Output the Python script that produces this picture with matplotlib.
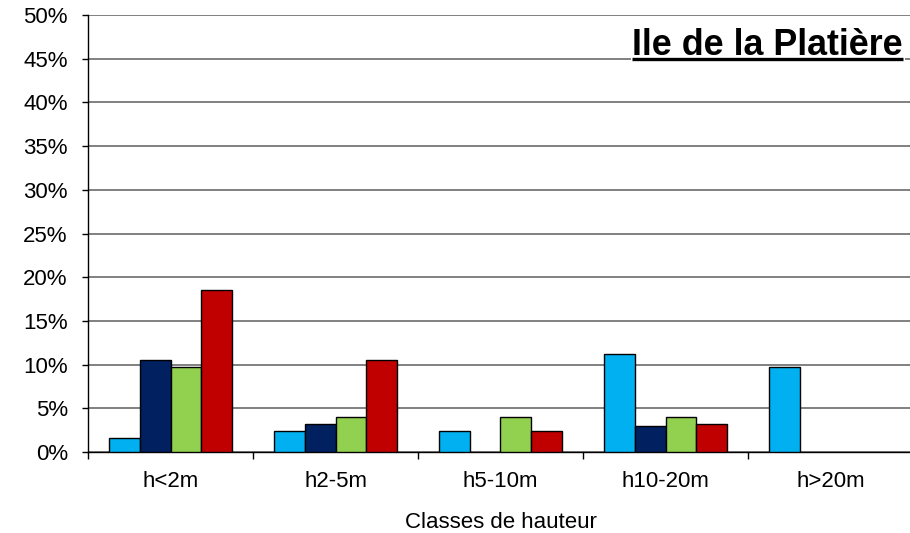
import numpy as np
import matplotlib
matplotlib.use("Agg")
import matplotlib.pyplot as plt

plt.rcParams['font.family'] = ['Liberation Sans', 'DejaVu Sans']

# Part de chaque classe de hauteur (en %)
categories = ["h<2m", "h2-5m", "h5-10m", "h10-20m", "h>20m"]
serie_1 = [1.6, 2.4, 2.4, 11.2, 9.7]
serie_2 = [10.5, 3.2, 0.0, 3.0, 0.0]
serie_3 = [9.7, 4.0, 4.0, 4.0, 0.0]
serie_4 = [18.5, 10.5, 2.4, 3.2, 0.0]
colors = ["#00B0F0", "#002060", "#92D050", "#C00000"]
title = "Ile de la Platière"

fig = plt.figure(figsize=(9.1, 5.33), dpi=100)
ax = fig.add_axes([88 / 910, 81 / 533, 825 / 910, 437 / 533])

x = np.arange(len(categories))
width = 0.185
for i, (vals, col) in enumerate(zip([serie_1, serie_2, serie_3, serie_4], colors)):
    h = np.array(vals)
    mask = h > 0
    ax.bar(x[mask] + (i - 1.5) * width, h[mask], width, color=col,
           edgecolor="black", linewidth=1.0, zorder=3)

ax.set_xlim(-0.5, len(categories) - 0.5)
ax.set_ylim(0, 50)
ax.set_yticks(np.arange(0, 51, 5))
ax.set_yticklabels([f"{v}%" for v in range(0, 51, 5)])
ax.yaxis.grid(True, color="#808080", linewidth=1.4, zorder=0)
ax.set_axisbelow(True)

ax.set_xticks(x)
ax.set_xticklabels(categories)
ax.set_xticks(np.arange(-0.5, len(categories), 1.0), minor=True)
ax.tick_params(axis="x", which="major", length=0, pad=14, labelsize=16)
ax.tick_params(axis="x", which="minor", length=5, width=1, direction="out")
ax.tick_params(axis="y", length=4.5, width=1, pad=10, labelsize=16)

for s in ("top", "right"):
    ax.spines[s].set_visible(False)
ax.spines["left"].set_linewidth(1.0)
ax.spines["bottom"].set_linewidth(1.0)

ax.set_xlabel("Classes de hauteur", fontsize=16, labelpad=14)

# Titre souligné en haut à droite
t = ax.text(0.988, 45.45, title, transform=ax.get_yaxis_transform(),
            ha="right", va="baseline", fontsize=25.8, fontweight="bold",
            zorder=5, bbox=dict(facecolor="white", edgecolor="none", pad=1))
fig.canvas.draw()
bb = t.get_window_extent().transformed(ax.transData.inverted())
ax.plot([bb.x0, bb.x1], [45, 45], color="black", linewidth=2.4,
        solid_capstyle="butt", zorder=6)

fig.savefig("out.png", dpi=100)
